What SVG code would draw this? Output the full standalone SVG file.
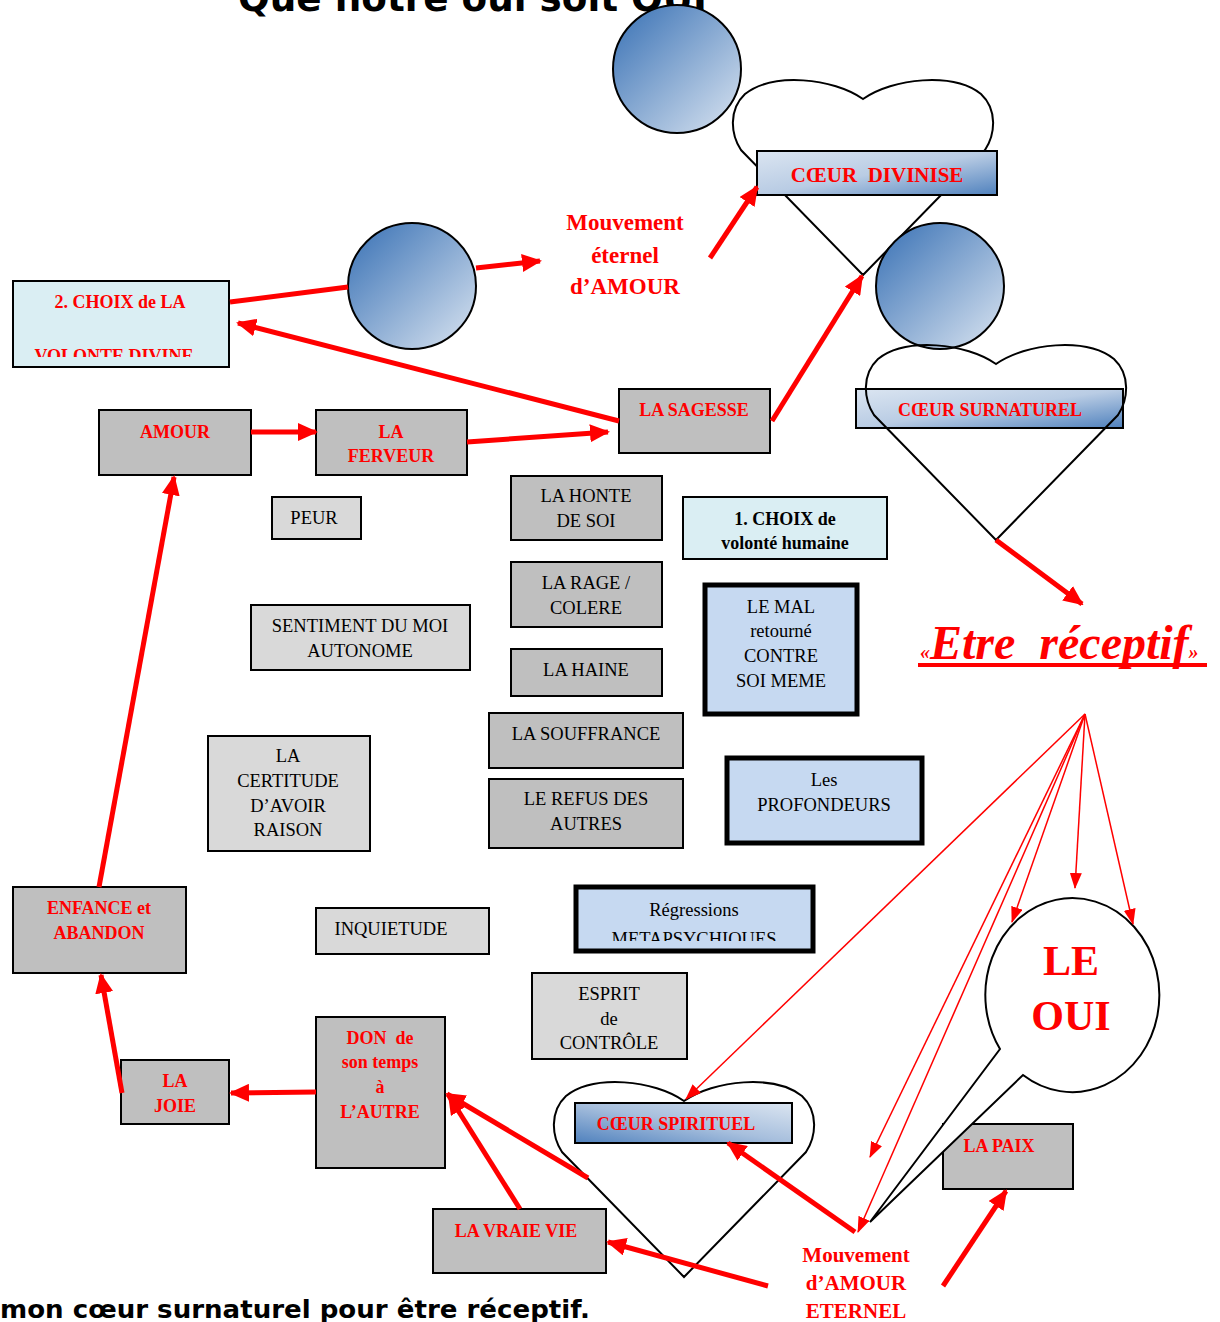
<svg xmlns="http://www.w3.org/2000/svg" width="1220" height="1322" viewBox="0 0 1220 1322">
<style>
.box{stroke:#000;stroke-width:2}
.g1{fill:#bfbfbf}.g2{fill:#d9d9d9}.lb{fill:#daeef3}.bl{fill:#c6d9f1;stroke-width:5}
.rt{font-family:"Liberation Serif",serif;font-weight:bold;fill:#f00;text-anchor:middle;font-size:18px}
.bt{font-family:"Liberation Serif",serif;fill:#000;text-anchor:middle;font-size:18.5px}
.thick{stroke:#f00;stroke-width:5;fill:none}
.thin{stroke:#f00;stroke-width:1.5;fill:none}
.heart{fill:none;stroke:#000;stroke-width:2}
.circ{stroke:#000;stroke-width:2;fill:url(#cg)}
.vb{font-family:"DejaVu Sans",Verdana,sans-serif;font-weight:bold;fill:#000}
.f23{font-size:23px}.f21{font-size:21px}.f42{font-size:42px}.f20{font-size:21px}.f16{font-size:18px;font-weight:bold}
</style>
<defs>
<linearGradient id="cg" x1="0" y1="0" x2="1" y2="1"><stop offset="0.15" stop-color="#4f81bd"/><stop offset="1" stop-color="#dbe5f1"/></linearGradient>
<linearGradient id="bg1" x1="0" y1="0" x2="1" y2="1"><stop offset="0" stop-color="#dbe5f1"/><stop offset="0.5" stop-color="#b9cce4"/><stop offset="1" stop-color="#4f81bd"/></linearGradient>
<linearGradient id="bg2" x1="0" y1="1" x2="1" y2="0"><stop offset="0" stop-color="#4f81bd"/><stop offset="0.5" stop-color="#a7bfdd"/><stop offset="1" stop-color="#dbe5f1"/></linearGradient>
<marker id="ah" markerUnits="userSpaceOnUse" markerWidth="20" markerHeight="18" refX="18" refY="9" orient="auto"><path d="M0,0 L20,9 L0,18 z" fill="#f00"/></marker>
<marker id="as" markerUnits="userSpaceOnUse" markerWidth="16" markerHeight="12" refX="15" refY="6" orient="auto"><path d="M0,0 L16,6 L0,12 z" fill="#f00"/></marker>
<path id="hp" d="M0 19 C-30 -2,-90 -8,-118 14 C-135 30,-132 55,-122 70 L0 195 L122 70 C132 55,135 30,118 14 C90 -8,30 -2,0 19 Z"/>
<clipPath id="c1"><rect x="13" y="281" width="216" height="76"/></clipPath>
<clipPath id="c2"><rect x="575" y="886" width="239" height="55"/></clipPath>
</defs>
<rect width="1220" height="1322" fill="#fff"/>

<text class="vb" x="238" y="11" font-size="37" textLength="469" lengthAdjust="spacingAndGlyphs">Que notre oui soit OUI</text>
<text class="vb" x="0" y="1318" font-size="24" textLength="590" lengthAdjust="spacingAndGlyphs">mon cœur surnaturel pour être réceptif.</text>

<g id="heart-divinise">
<use href="#hp" class="heart" transform="translate(863,80)"/>
<rect class="box" x="757" y="151" width="240" height="44" fill="url(#bg1)"/>
<text class="rt f20" x="877" y="182" xml:space="preserve">CŒUR  DIVINISE</text>
</g>
<g id="circle1"><ellipse class="circ" cx="677" cy="69" rx="64" ry="64"/></g>
<g id="circle2"><ellipse class="circ" cx="412" cy="286" rx="64" ry="63"/></g>
<g id="circle3"><ellipse class="circ" cx="940" cy="286" rx="64" ry="63"/></g>

<g id="heart-surnaturel">
<rect class="box" x="856" y="389" width="267" height="39" fill="url(#bg1)"/>
<use href="#hp" class="heart" transform="translate(996,345)"/>
<text class="rt" x="990" y="416">CŒUR SURNATUREL</text>
</g>

<g id="heart-spirituel">
<use href="#hp" class="heart" transform="translate(684,1082)"/>
<rect class="box" x="575" y="1103" width="217" height="40" fill="url(#bg2)"/>
<text class="rt" x="676" y="1130">CŒUR SPIRITUEL</text>
</g>

<g id="choix2">
<rect class="box lb" x="13" y="281" width="216" height="86"/>
<text class="rt" x="120" y="308">2. CHOIX de LA</text>
<text class="rt" x="114" y="362" clip-path="url(#c1)">VOLONTE DIVINE</text>
</g>
<g id="amour"><rect class="box g1" x="99" y="410" width="152" height="65"/><text class="rt" x="175" y="438">AMOUR</text></g>
<g id="ferveur"><rect class="box g1" x="316" y="410" width="151" height="65"/><text class="rt" x="391" y="438">LA</text><text class="rt" x="391" y="462">FERVEUR</text></g>
<g id="sagesse"><rect class="box g1" x="619" y="389" width="151" height="64"/><text class="rt" x="694" y="416">LA SAGESSE</text></g>
<g id="peur"><rect class="box g2" x="272" y="497" width="89" height="42"/><text class="bt" x="314" y="524">PEUR</text></g>
<g id="honte"><rect class="box g1" x="511" y="476" width="151" height="64"/><text class="bt" x="586" y="502">LA HONTE</text><text class="bt" x="586" y="527">DE SOI</text></g>
<g id="choix1"><rect class="box lb" x="683" y="497" width="204" height="62"/><text class="bt f16" x="785" y="525">1. CHOIX de</text><text class="bt f16" x="785" y="549">volonté humaine</text></g>
<g id="rage"><rect class="box g1" x="511" y="562" width="151" height="65"/><text class="bt" x="586" y="589">LA RAGE /</text><text class="bt" x="586" y="614">COLERE</text></g>
<g id="sentiment"><rect class="box g2" x="251" y="605" width="219" height="65"/><text class="bt" x="360" y="632">SENTIMENT DU MOI</text><text class="bt" x="360" y="657">AUTONOME</text></g>
<g id="haine"><rect class="box g1" x="511" y="649" width="151" height="47"/><text class="bt" x="586" y="676">LA HAINE</text></g>
<g id="mal"><rect class="box bl" x="705" y="585" width="152" height="129"/><text class="bt" x="781" y="613">LE MAL</text><text class="bt" x="781" y="637">retourné</text><text class="bt" x="781" y="662">CONTRE</text><text class="bt" x="781" y="687">SOI MEME</text></g>
<g id="souffrance"><rect class="box g1" x="489" y="713" width="194" height="55"/><text class="bt" x="586" y="740">LA SOUFFRANCE</text></g>
<g id="certitude"><rect class="box g2" x="208" y="736" width="162" height="115"/><text class="bt" x="288" y="762">LA</text><text class="bt" x="288" y="787">CERTITUDE</text><text class="bt" x="288" y="812">D’AVOIR</text><text class="bt" x="288" y="836">RAISON</text></g>
<g id="profondeurs"><rect class="box bl" x="727" y="758" width="195" height="85"/><text class="bt" x="824" y="786">Les</text><text class="bt" x="824" y="811">PROFONDEURS</text></g>
<g id="refus"><rect class="box g1" x="489" y="779" width="194" height="69"/><text class="bt" x="586" y="805">LE REFUS DES</text><text class="bt" x="586" y="830">AUTRES</text></g>
<g id="regressions"><rect class="box bl" x="576" y="887" width="237" height="64"/><text class="bt" x="694" y="916">Régressions</text><text class="bt" x="694" y="945" clip-path="url(#c2)">METAPSYCHIQUES</text></g>
<g id="enfance"><rect class="box g1" x="13" y="887" width="173" height="86"/><text class="rt" x="99" y="914">ENFANCE et</text><text class="rt" x="99" y="939">ABANDON</text></g>
<g id="inquietude"><rect class="box g2" x="316" y="908" width="173" height="46"/><text class="bt" x="391" y="935">INQUIETUDE</text></g>
<g id="esprit"><rect class="box g2" x="532" y="973" width="155" height="86"/><text class="bt" x="609" y="1000">ESPRIT</text><text class="bt" x="609" y="1025">de</text><text class="bt" x="609" y="1049">CONTRÔLE</text></g>
<g id="don"><rect class="box g1" x="316" y="1017" width="129" height="151"/><text class="rt" x="380" y="1044" xml:space="preserve">DON  de</text><text class="rt" x="380" y="1068">son temps</text><text class="rt" x="380" y="1093">à</text><text class="rt" x="380" y="1118">L’AUTRE</text></g>
<g id="joie"><rect class="box g1" x="121" y="1060" width="108" height="64"/><text class="rt" x="175" y="1087">LA</text><text class="rt" x="175" y="1112">JOIE</text></g>
<g id="vraievie"><rect class="box g1" x="433" y="1209" width="173" height="64"/><text class="rt" x="516" y="1237">LA VRAIE VIE</text></g>
<g id="paix"><rect class="box g1" x="943" y="1124" width="130" height="65"/><text class="rt" x="999" y="1152">LA PAIX</text></g>

<g id="le-oui">
<path d="M1000 1049 A87 97 0 1 1 1023 1075 L870 1222 Z" fill="#fff" stroke="#000" stroke-width="2" stroke-linejoin="miter"/>
<text class="rt f42" x="1071" y="975">LE</text>
<text class="rt f42" x="1071" y="1030">OUI</text>
</g>

<g id="mouvement-eternel"><text class="rt f23" x="625" y="230">Mouvement</text><text class="rt f23" x="625" y="263">éternel</text><text class="rt f23" x="625" y="294">d’AMOUR</text></g>
<g id="mouvement-amour"><text class="rt f21" x="856" y="1262">Mouvement</text><text class="rt f21" x="856" y="1290">d’AMOUR</text><text class="rt f21" x="856" y="1318">ETERNEL</text></g>
<g id="etre-receptif">
<text x="920" y="659" font-family="'Liberation Serif',serif" font-weight="bold" font-style="italic" fill="#f00" font-size="48" xml:space="preserve"><tspan font-size="20">«</tspan>Etre  réceptif<tspan font-size="20">»</tspan></text>
<line x1="918" y1="665" x2="1207" y2="665" stroke="#f00" stroke-width="4"/>
</g>

<g id="connectors">
<path class="thick" d="M230 302 L348 287"/>
<path class="thick" d="M476 268 L540 261" marker-end="url(#ah)"/>
<path class="thick" d="M710 258 L757 187" marker-end="url(#ah)"/>
<path class="thick" d="M772 421 L862 276" marker-end="url(#ah)"/>
<path class="thick" d="M619 421 L238 323" marker-end="url(#ah)"/>
<path class="thick" d="M251 432 L316 432" marker-end="url(#ah)"/>
<path class="thick" d="M467 442 L608 432" marker-end="url(#ah)"/>
<path class="thick" d="M99 887 L174 477" marker-end="url(#ah)"/>
<path class="thick" d="M122 1093 L101 975" marker-end="url(#ah)"/>
<path class="thick" d="M316 1092 L231 1093" marker-end="url(#ah)"/>
<path class="thick" d="M588 1178 L447 1094" marker-end="url(#ah)"/>
<path class="thick" d="M520 1209 L449 1096" marker-end="url(#ah)"/>
<path class="thick" d="M768 1286 L608 1242" marker-end="url(#ah)"/>
<path class="thick" d="M855 1232 L728 1143" marker-end="url(#ah)"/>
<path class="thick" d="M943 1286 L1006 1191" marker-end="url(#ah)"/>
<path class="thick" d="M996 540 L1082 604" marker-end="url(#ah)"/>
<path class="thin" d="M1085 714 L686 1099" marker-end="url(#as)"/>
<path class="thin" d="M1085 714 L870 1157" marker-end="url(#as)"/>
<path class="thin" d="M1085 714 L858 1232" marker-end="url(#as)"/>
<path class="thin" d="M1085 714 L1012 922" marker-end="url(#as)"/>
<path class="thin" d="M1085 714 L1075 888" marker-end="url(#as)"/>
<path class="thin" d="M1085 714 L1133 924" marker-end="url(#as)"/>
</g>
</svg>
